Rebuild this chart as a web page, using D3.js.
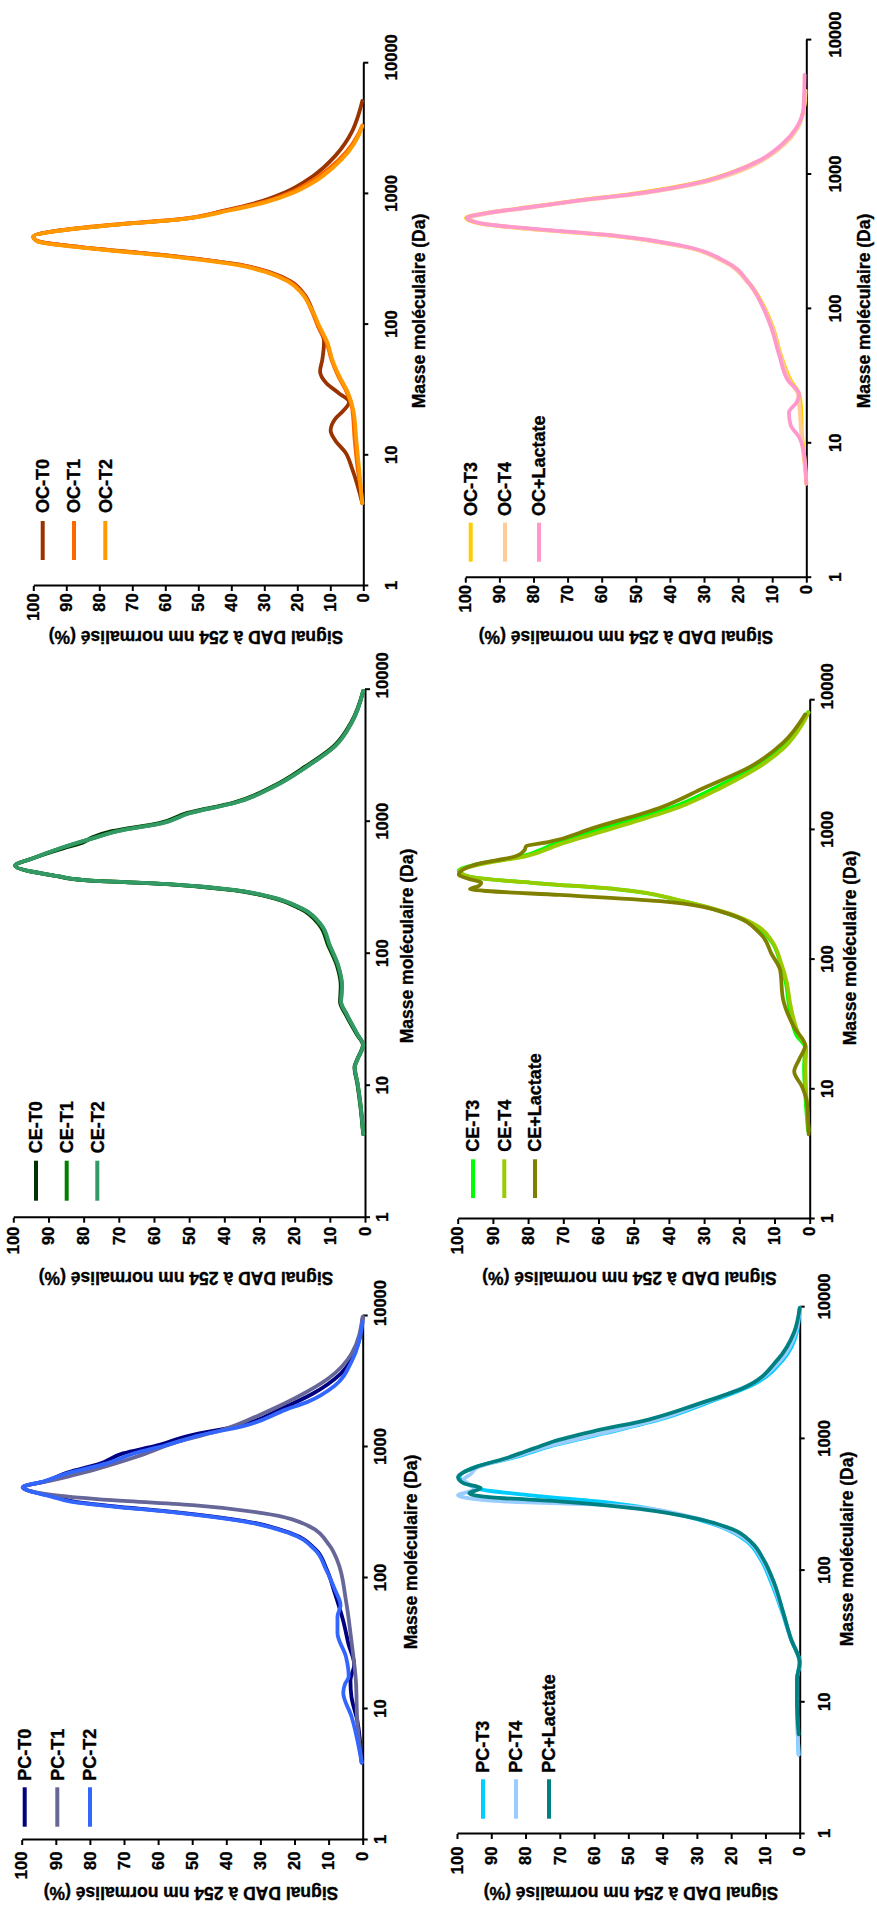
<!DOCTYPE html>
<html><head><meta charset="utf-8">
<script src="https://cdn.jsdelivr.net/npm/d3@7"></script>
<style>
body{margin:0;background:#fff;}
svg{display:block;}
text{font-family:"Liberation Sans",Arial,sans-serif;font-weight:bold;fill:#000;stroke:#000;stroke-width:0.35px;}
</style></head><body>
<svg id="c" width="877" height="1905"></svg>
<script>
// ---------- tick labels / titles ----------
const massTicks = [1, 10, 100, 1000, 10000];
const valueTicks = [0, 10, 20, 30, 40, 50, 60, 70, 80, 90, 100];
const xTitle = "Masse moléculaire (Da)";
const yTitle = "Signal DAD à 254 nm normalisé (%)";

// ---------- series: [masse (Da), signal (%)] ----------
const OC_T0 = [[4.3,0.3],[7.9,3.4],[10.5,5.4],[13,8.5],[15.5,9.9],[19,8.5],[22,6],[25.6,4.3],[30,7.5],[35.4,11.1],[43.9,13.1],[54.4,12.4],[75,11.9],[96,13.6],[130,15.5],[171,17.9],[215,22.1],[250,28],[282,35.7],[338,59.5],[390,85],[434,98.6],[473,100],[519,93.5],[578,76.5],[644,54.4],[743,42.5],[857,32.3],[1025,23.8],[1366,15.3],[1954,8.5],[3006,3.4],[4000,1.5],[5140,0.3]];
const OC_T1 = [[4.3,0.3],[6,1],[7.9,1.7],[13,2.6],[23,3.4],[30.7,5.1],[40.8,7.7],[54.4,9.7],[72.4,11.1],[96,13.6],[130,15.8],[175,18.5],[215,22.5],[250,28.5],[285,37],[338,60],[390,85],[434,98.6],[473,100],[519,93.5],[578,77],[644,55],[743,42],[857,31],[1025,22.1],[1228,16.2],[1578,10.2],[2100,5.1],[2800,1.7],[3340,0.3]];
const OC_T2 = [[4.3,0.3],[8,1.3],[13,2.1],[22,3],[30,4.6],[40,7.2],[54,9.4],[72,10.8],[96,13.2],[130,15.6],[175,18.8],[215,23],[250,29],[285,38],[338,61],[390,86],[434,98.8],[473,100],[519,93],[578,76],[644,54],[743,41],[857,30],[1025,21],[1228,15],[1578,9.3],[2100,4.5],[2800,1.4],[3300,0.3]];
const OC_T3 = [[5,0],[8,0.6],[12,1.3],[18,1.5],[23,2],[29.5,4.6],[44.9,7.4],[73,9.8],[104,12.4],[157,16.9],[223,23.6],[295,37],[351,57],[395,82],[433,96],[474,99.8],[516,94],[573,81],[636,68],[731,49],[869,32],[1035,22],[1276,13.4],[1687,6.6],[2230,2.6],[3000,0.8],[3600,0.3]];
const OC_T4 = [[5.5,0],[8,0.8],[12,1.5],[18,2],[23,2.4],[29.5,5],[44.9,7.6],[73,10],[104,12.6],[157,17.2],[223,24],[295,37.5],[351,57.5],[395,82],[433,95.5],[474,98.8],[516,93],[573,80],[636,67],[731,47],[869,30.5],[1035,20.5],[1276,12.8],[1687,6.3],[2230,2.5],[3000,0.8],[4200,0.2]];
const OC_LAC = [[5,0],[7.8,0.5],[11.1,2.1],[13.7,4.6],[16.9,5.1],[20.1,2.9],[23.1,2.1],[29.5,5.4],[44.9,7.9],[73,10.3],[104,12.8],[157,16.9],[223,23.4],[295,36.5],[351,56],[395,80.7],[433,95.4],[474,99.5],[516,93.8],[573,80.7],[636,67.6],[731,48],[869,31.6],[1035,21.8],[1276,13.6],[1687,7],[2230,2.9],[3162,0.8],[5520,0.5]];

const CE_T0 = [[4.3,0.5],[7.3,1.4],[10.4,2.2],[13.8,3],[15.9,2.2],[20.4,0.6],[24.4,2.3],[34.7,5.5],[43,7.1],[57,6.9],[81.4,8],[116,10.5],[165,13],[220,18.5],[272,28],[303,37.5],[337,56.5],[361,80],[388,88],[463,99.5],[533,94],[637,85],[700,80],[761,77.5],[847,72],[976,58.5],[1165,50.5],[1391,37.5],[1848,26.3],[2636,16.8],[3760,8.8],[5750,3.8],[9790,0.5]];
const CE_T1 = [[4.3,0.5],[7.3,1.3],[10.4,2.1],[13.8,2.9],[15.9,2.1],[20.4,0.5],[24.4,2.1],[34.7,5.2],[43,6.8],[57,6.6],[81.4,7.7],[116,10.2],[165,12.6],[220,18],[272,27.6],[303,37],[337,56],[361,79.7],[388,87.6],[463,99.5],[533,94],[637,86],[761,76.5],[847,70.5],[976,57.8],[1165,49.8],[1391,37],[1848,26],[2636,16.4],[3760,8.5],[5750,3.6],[9790,0.5]];
const CE_T2 = [[4.3,0.5],[7.3,1.3],[10.4,2.1],[13.8,2.9],[15.9,2.1],[20.4,0.5],[24.4,2.1],[34.7,5.2],[43,6.8],[57,6.5],[81.4,7.6],[116,10],[165,12.4],[220,17.9],[272,27.4],[303,36.9],[337,55.9],[361,79.7],[388,87.6],[463,99.5],[533,94],[637,86],[761,76.5],[847,70.2],[976,57.5],[1165,49.6],[1391,36.9],[1848,25.8],[2636,16.3],[3760,8.4],[5750,3.6],[9790,0.5]];
const CE_T3 = [[4.8,0.5],[9.5,1.3],[14.7,1.6],[21,1.3],[26,3.7],[35,5.2],[46.6,6],[66.8,6.8],[95.8,8.4],[137,10.8],[183,15.6],[227,23.5],[282,36.2],[350,55.2],[391,79],[435,96.5],[484,99.7],[540,95],[623,82.2],[774,72.7],[1109,55.2],[1482,39.4],[2124,26.7],[3045,15.6],[4365,7.6],[6260,2.9],[8060,0.5]];
const CE_T4 = [[4.8,0.3],[9.5,1],[14.7,1.2],[21,1],[26,3],[35,4.6],[46.6,5.6],[66.8,6.5],[95.8,8.2],[137,10.6],[183,15],[227,23],[282,36],[350,55],[391,79],[435,96.5],[484,99.5],[540,94],[623,81],[774,71],[1109,52],[1482,37.5],[2124,25],[3045,14.5],[4365,7],[6260,2.5],[8060,0.3]];
const CE_LAC = [[4.5,0.3],[8,0.8],[10.5,2.2],[13.7,4.4],[17,3],[21.8,1.3],[30,4.4],[50,7.6],[83,8.4],[110,10.8],[158,14],[227,23.5],[282,42.5],[315,71],[338,91.7],[350,96.5],[370,94],[391,93.3],[420,97],[451,99.7],[540,95],[623,83.8],[700,81],[747,80.6],[804,74.3],[1033,61.6],[1482,42.5],[2124,29.8],[3045,17.1],[4690,7.6],[7760,1.3]];

const PC_T0 = [[3.9,0.3],[8.2,1.6],[12.4,3.3],[16.5,3.6],[21.8,2.5],[30.9,4.1],[47,5.7],[77,8.2],[117,10.6],[166,13.9],[220,21.2],[271,34.3],[323,57.2],[354,73.5],[385,85],[413,89.9],[492,99.7],[547,93.1],[638,86.6],[750,76.8],[893,70.3],[1026,60.5],[1224,50.7],[1457,35.9],[1928,24.5],[2551,14.7],[3622,6.5],[5915,1.6],[9660,0]];
const PC_T1 = [[3.9,0.3],[8.2,1.6],[16.5,2],[33,3.3],[67,4.9],[135,7.4],[178,9.8],[253,16.3],[313,29.4],[359,49],[393,73.5],[428,89.9],[492,99.7],[566,89.9],[675,78.4],[832,67],[1101,53.9],[1359,40.8],[1797,29.4],[2378,19.6],[3380,9.8],[5140,3.3],[9900,0]];
const PC_T2 = [[3.9,0.3],[8.8,3.3],[13.3,5.7],[15.5,5.2],[17.7,4.1],[25,4.9],[38,7.4],[50.5,7.4],[62,6.5],[82,8.2],[117,10.8],[166,14.2],[220,21.5],[271,35],[323,58],[354,74.5],[385,86],[413,90.5],[492,99.7],[547,93.5],[638,86],[750,75],[893,67],[1026,58],[1224,48],[1457,34.5],[1928,22.5],[2220,16],[2936,8.2],[4470,3.3],[9000,0]];
const PC_T3 = [[4,0.3],[10,0.8],[15,0.8],[20,0],[30,2.5],[49,5.2],[80,8.2],[122,11.4],[167,15.5],[214,22.9],[263,34.3],[324,53.9],[373,78.4],[414,93.1],[476,98],[511,99.3],[608,94.8],[723,83.3],[891,71.9],[1099,57.2],[1403,40.8],[1918,26.1],[2624,13.1],[3981,4.9],[6490,0.8],[9860,0]];
const PC_T4 = [[4,0.3],[10,0.8],[15,0.8],[20,0],[30,2.5],[49,5],[80,7.8],[122,11],[167,15],[214,22.5],[263,33.5],[310,52],[336,86.6],[360,98],[373,99.7],[414,94.8],[493,98],[540,96],[608,94],[723,84],[891,72.5],[1099,58],[1403,41.5],[1918,27],[2624,14],[3981,5.5],[6490,1.1],[9860,0]];
const PC_LAC = [[5.7,0.3],[10,0.8],[15,0.8],[20,0],[30,2.5],[49,4.9],[80,7.4],[122,10.6],[162,13.9],[206,19.6],[246,29.4],[292,45.8],[336,70.3],[360,89.9],[387,96.4],[410,94],[423,93.1],[460,98],[511,99.7],[608,94.8],[723,85],[803,80.1],[861,76.8],[955,71.9],[1137,60.5],[1403,44.1],[1853,29.4],[2449,16.3],[3981,6.5],[6490,1.6],[9860,0]];

// ---------- names & colours ----------
const ocNamesA = ["OC-T0", "OC-T1", "OC-T2"], ocNamesB = ["OC-T3", "OC-T4", "OC+Lactate"];
const ceNamesA = ["CE-T0", "CE-T1", "CE-T2"], ceNamesB = ["CE-T3", "CE-T4", "CE+Lactate"];
const pcNamesA = ["PC-T0", "PC-T1", "PC-T2"], pcNamesB = ["PC-T3", "PC-T4", "PC+Lactate"];
const ocColorsA = ["#993300", "#FF6600", "#FF9900"], ocColorsB = ["#FFCC00", "#FFCC99", "#FF99CC"];
const ceColorsA = ["#003300", "#008000", "#339966"], ceColorsB = ["#00FF00", "#99CC00", "#808000"];
const pcColorsA = ["#000080", "#666699", "#3366FF"], pcColorsB = ["#00CCFF", "#99CCFF", "#008080"];

// ---------- panel layout (page coordinates) ----------
const panels = [
  {names: ocNamesA, colors: ocColorsA, data: [OC_T0, OC_T1, OC_T2],
   L: {ox: 363.3, oy: 586, dec: 130.7, span: 330, xlo: 28, ylp: 7.3, top: 5.5, lx: [42.7, 74, 105.3], lyb: 560, lyt: 521, lty: 513, xt: [419, 311], yt: [196, 637]}},
  {names: ocNamesB, colors: ocColorsB, data: [OC_T3, OC_T4, OC_LAC],
   L: {ox: 806.3, oy: 577.7, dec: 134.4, span: 341, xlo: 29, ylp: 7.3, top: 5, lx: [470.7, 505, 539], lyb: 561.7, lyt: 522.7, lty: 516, xt: [864, 311], yt: [626, 637]}},
  {names: ceNamesA, colors: ceColorsA, data: [CE_T0, CE_T1, CE_T2],
   L: {ox: 365, oy: 1217.7, dec: 132, span: 351.7, xlo: 17.5, ylp: 9, top: 14, lx: [36, 66.7, 97.3], lyb: 1200.7, lyt: 1160.7, lty: 1153.3, xt: [406.5, 946], yt: [186, 1278]}},
  {names: ceNamesB, colors: ceColorsB, data: [CE_T3, CE_T4, CE_LAC],
   L: {ox: 809.7, oy: 1219, dec: 129.7, span: 352, xlo: 17.5, ylp: 7.7, top: 13.5, lx: [473, 504.3, 535], lyb: 1198, lyt: 1159.3, lty: 1151.7, xt: [850, 948], yt: [629.5, 1278]}},
  {names: pcNamesA, colors: pcColorsA, data: [PC_T0, PC_T1, PC_T2],
   L: {ox: 362.7, oy: 1840, dec: 131, span: 341, xlo: 18, ylp: 11.7, top: 12.5, lx: [24.7, 57.3, 90], lyb: 1826.7, lyt: 1787.3, lty: 1780.7, xt: [411, 1552], yt: [191, 1893.5]}},
  {names: pcNamesB, colors: pcColorsB, data: [PC_T3, PC_T4, PC_LAC],
   L: {ox: 799.7, oy: 1834, dec: 131.7, span: 342.7, xlo: 25, ylp: 12.7, top: 10.3, lx: [483, 516, 549], lyb: 1818.7, lyt: 1779.3, lty: 1772.7, xt: [847, 1549], yt: [631, 1893.5]}}
];

const svg = d3.select("#c");
const TICK_FS = 16.5, TITLE_FS = 17.5, LEG_FS = 18;

panels.forEach(p => {
  const L = p.L;
  // plot drawn in its original (unrotated) frame, then turned 90° anticlockwise
  const g = svg.append("g").attr("transform", `translate(${L.ox},${L.oy}) rotate(-90)`);
  const x = d3.scaleLog().domain([1, 10000]).range([0, 4 * L.dec]);
  const y = d3.scaleLinear().domain([0, 100]).range([0, -L.span]);

  const xa = g.append("g").call(
    d3.axisBottom(x).tickValues(massTicks).tickFormat(d3.format("d"))
      .tickSize(5).tickSizeOuter(0).tickPadding(L.xlo - 5 - 0.358 * TICK_FS));
  const ya = g.append("g").call(
    d3.axisLeft(y).tickValues(valueTicks).tickFormat(d3.format("d"))
      .tickSize(5).tickSizeOuter(0).tickPadding(L.ylp - 5));
  [xa, ya].forEach(a => {
    a.attr("font-size", null).attr("font-family", null);
    a.select(".domain").attr("stroke", "#000").attr("stroke-width", 2);
    a.selectAll(".tick line").attr("stroke", "#000").attr("stroke-width", 2);
    a.selectAll(".tick text").style("font-size", TICK_FS + "px").attr("fill", "#000");
  });
  xa.selectAll(".tick text").filter(d => d === 10000).attr("x", L.top);

  const line = d3.line().x(d => x(d[0])).y(d => y(d[1])).curve(d3.curveMonotoneX);
  p.data.forEach((s, i) => {
    g.append("path").datum(s).attr("d", line)
      .attr("fill", "none").attr("stroke", p.colors[i])
      .attr("stroke-width", 3.8).attr("stroke-linejoin", "round").attr("stroke-linecap", "round");
  });

  // legend
  p.names.forEach((n, i) => {
    svg.append("line").attr("x1", L.lx[i]).attr("x2", L.lx[i])
      .attr("y1", L.lyb).attr("y2", L.lyt)
      .attr("stroke", p.colors[i]).attr("stroke-width", 4);
    svg.append("text").attr("transform", `translate(${L.lx[i]},${L.lty}) rotate(-90)`)
      .attr("dy", "0.35em").style("font-size", LEG_FS + "px").text(n);
  });

  // axis titles
  svg.append("text").attr("transform", `translate(${L.xt[0]},${L.xt[1]}) rotate(-90)`)
    .attr("text-anchor", "middle").attr("dy", "0.35em").style("font-size", TITLE_FS + "px").text(xTitle);
  svg.append("text").attr("transform", `translate(${L.yt[0]},${L.yt[1]}) rotate(180)`)
    .attr("text-anchor", "middle").attr("dy", "0.35em").style("font-size", TITLE_FS + "px").text(yTitle);
});
</script>
</body></html>
